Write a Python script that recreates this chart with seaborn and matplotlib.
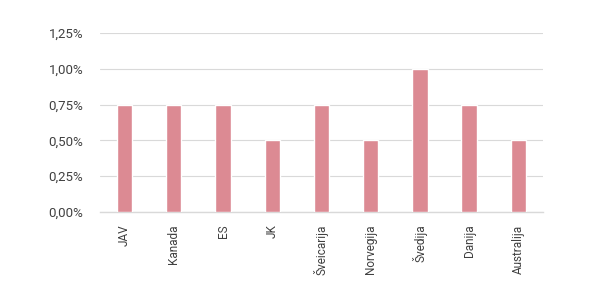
import matplotlib
matplotlib.use("Agg")
import matplotlib.pyplot as plt
import seaborn as sns
import pandas as pd
from matplotlib.ticker import FuncFormatter

# Data
countries = ["JAV", "Kanada", "ES", "JK", "Šveicarija", "Norvegija", "Švedija", "Danija", "Australija"]
values = [0.75, 0.75, 0.75, 0.50, 0.75, 0.50, 1.00, 0.75, 0.50]
yticks = [0.0, 0.25, 0.5, 0.75, 1.0, 1.25]

sns.set_theme(style="white")
plt.rcParams['font.family'] = ['Roboto', 'DejaVu Sans']

df = pd.DataFrame({"country": countries, "value": values})

fig = plt.figure(figsize=(6.01, 2.93), dpi=100)
ax = fig.add_axes([0.1664, 0.2765, 0.7370, 0.6105])

sns.barplot(data=df, x="country", y="value", color="#dc8a93", saturation=1,
            width=0.31, ax=ax, zorder=3)

ax.set_ylim(0, 1.25)
ax.set_xlim(-0.5, len(countries) - 0.5)
ax.set_yticks(yticks)
ax.yaxis.set_major_formatter(FuncFormatter(lambda v, _: f"{v:.2f}%".replace(".", ",")))
ax.grid(axis="y", color="#d9d9d9", linewidth=0.8, zorder=0)
ax.set_axisbelow(True)

for s in ["top", "right", "left"]:
    ax.spines[s].set_visible(False)
ax.spines["bottom"].set_color("#d9d9d9")
ax.spines["bottom"].set_linewidth(1.0)

ax.tick_params(axis="x", rotation=90, labelsize=8.5, colors="#404040", length=0, pad=9)
ax.tick_params(axis="y", labelsize=9.5, colors="#404040", length=0, pad=12)
ax.set_xlabel("")
ax.set_ylabel("")

fig.savefig("out.png", dpi=100)
